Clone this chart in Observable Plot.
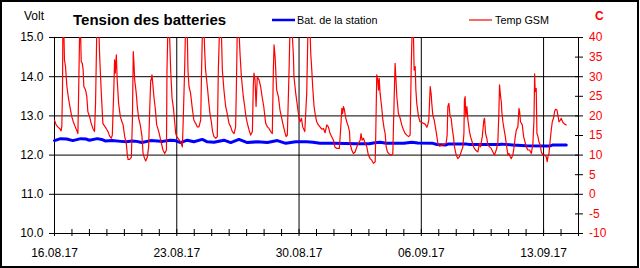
<!DOCTYPE html>
<html>
<head>
<meta charset="utf-8">
<script src="https://cdn.jsdelivr.net/npm/d3@7"></script>
<script src="https://cdn.jsdelivr.net/npm/@observablehq/plot@0.6"></script>
<style>
  html, body { margin: 0; padding: 0; background: white; }
  #chart { width: 640px; height: 268px; }
</style>
</head>
<body>
<div id="chart"></div>
<script>
// ---- data ----
const startDate = "2017-08-16";
const endDate = "2017-09-15";
const dateLabels = ["2017-08-16", "2017-08-23", "2017-08-30", "2017-09-06", "2017-09-13"];
const voltTicks = [10, 11, 12, 13, 14, 15];
const tempTicks = [-10, -5, 0, 5, 10, 15, 20, 25, 30, 35, 40];

// battery: [day offset from 16.08.17, volts]
const batDay = [0,0.35,0.7,1.05,1.5,1.8,2.0,2.45,2.7,2.9,3.3,3.8,4.1,4.45,4.7,5.0,5.5,5.9,6.2,6.6,6.9,7.22,7.6,7.98,8.46,8.75,9.13,9.7,10.09,10.56,11.04,11.61,12.19,12.76,13.24,13.81,14.44,14.8,15.2,16.0,17.3,18.0,18.45,18.64,19.0,20.0,20.45,20.8,21.66,21.9,22.42,22.52,23.6,23.76,25.48,25.58,26.2,27.01,28.34,28.54,29.3];
const batVolt = [12.37,12.42,12.41,12.37,12.42,12.41,12.38,12.42,12.40,12.36,12.37,12.35,12.34,12.36,12.35,12.32,12.37,12.36,12.35,12.38,12.37,12.32,12.38,12.34,12.40,12.34,12.33,12.38,12.32,12.40,12.32,12.34,12.32,12.37,12.30,12.34,12.34,12.33,12.30,12.30,12.29,12.29,12.32,12.33,12.30,12.30,12.33,12.31,12.30,12.27,12.26,12.28,12.28,12.27,12.27,12.28,12.26,12.24,12.23,12.26,12.26];

// GSM temperature: [day offset from 16.08.17, °C]
const tempPoints = [
[0,18.9],[0.096,17.7],[0.19,17.2],[0.29,16.8],[0.38,16.2],[0.42,17.4],[0.46,27.5],[0.48,43],[0.535,42],[0.57,34.3],[0.63,32.6],[0.71,27.5],[0.80,24.5],[0.90,21.9],[0.99,19.8],
[1.09,18.3],[1.19,17.2],[1.28,16.2],[1.34,15.5],[1.40,30.9],[1.45,44],[1.49,42],[1.53,33.9],[1.59,33.4],[1.64,31.7],[1.68,27.5],[1.78,26.6],[1.85,24.9],[1.91,21.1],
[2.01,19.8],[2.10,18.1],[2.20,16.8],[2.29,16.0],[2.35,23.2],[2.43,44],[2.54,42],[2.58,36.0],[2.62,31.7],[2.68,25.8],[2.77,18.1],[2.87,17.4],[2.96,16.8],
[3.06,16.0],[3.15,14.9],[3.25,14.3],[3.31,15.1],[3.40,27.5],[3.44,34.3],[3.48,30.9],[3.54,35.6],[3.59,29.2],[3.67,23.2],[3.77,19.8],[3.86,18.5],[3.92,17.9],
[4.02,14.7],[4.11,13.0],[4.17,10.0],[4.21,8.9],[4.30,8.9],[4.40,9.4],[4.46,18.9],[4.51,36.4],[4.55,33.4],[4.59,29.2],[4.68,25.8],[4.74,22.4],[4.82,19.4],[4.91,17.7],
[5.01,14.7],[5.07,10.4],[5.16,9.1],[5.22,8.5],[5.32,9.6],[5.39,12.1],[5.45,21.5],[5.51,29.2],[5.54,29.2],[5.58,30.5],[5.64,27.5],[5.70,24.5],[5.77,21.9],[5.85,17.7],[5.97,16.0],
[6.08,13.8],[6.21,11.3],[6.31,10.4],[6.41,11.3],[6.44,31.7],[6.50,44],[6.58,42],[6.65,31.7],[6.73,24.5],[6.81,21.9],[6.88,18.5],[6.94,15.5],
[7.00,14.7],[7.22,13.4],[7.32,12.1],[7.37,18.9],[7.45,31.7],[7.51,44],[7.60,42],[7.64,31.7],[7.70,27.5],[7.79,25.8],[7.89,21.9],[7.98,18.9],
[8.08,18.1],[8.18,17.2],[8.27,17.2],[8.37,18.9],[8.42,31.7],[8.48,44],[8.56,42],[8.60,36.4],[8.65,31.7],[8.75,27.5],[8.84,23.2],[8.90,20.6],[8.98,18.5],
[9.05,16.0],[9.13,14.7],[9.23,14.3],[9.32,14.7],[9.38,31.7],[9.46,44],[9.55,42],[9.61,31.7],[9.70,26.6],[9.80,22.4],[9.89,20.6],[9.99,18.1],
[10.09,17.2],[10.18,16.0],[10.28,15.5],[10.37,17.2],[10.43,31.7],[10.47,44],[10.56,42],[10.62,36.0],[10.70,30.0],[10.81,24.9],[10.89,22.4],[10.96,19.8],
[11.04,18.1],[11.14,16.4],[11.23,15.1],[11.33,16.0],[11.38,27.5],[11.42,30.9],[11.48,29.2],[11.54,22.4],[11.61,30.0],[11.71,29.2],[11.80,27.5],[11.90,24.5],[11.98,22.4],
[12.09,18.1],[12.19,17.2],[12.28,16.8],[12.38,16.0],[12.47,15.5],[12.53,31.7],[12.57,38.1],[12.63,35.1],[12.72,26.6],[12.82,24.9],[12.91,21.5],[12.99,19.8],
[13.07,18.1],[13.18,16.0],[13.26,14.7],[13.33,15.1],[13.43,31.7],[13.49,44],[13.60,42],[13.68,35.1],[13.71,30.0],[13.81,25.8],[13.91,22.4],
[14.00,19.4],[14.06,18.5],[14.14,19.4],[14.21,17.2],[14.33,16.0],[14.44,25.8],[14.52,44],[14.63,42],[14.67,36.0],[14.73,31.7],[14.78,27.5],[14.86,22.4],[14.92,20.6],
[15.01,18.5],[15.11,17.7],[15.20,17.2],[15.30,16.6],[15.40,16.8],[15.49,15.7],[15.59,17.7],[15.68,17.2],[15.78,15.5],[15.87,14.7],[15.97,13.8],
[16.06,12.0],[16.16,11.7],[16.31,11.7],[16.39,17.2],[16.45,21.9],[16.50,20.6],[16.54,22.4],[16.60,21.5],[16.66,19.8],[16.73,18.5],[16.83,17.2],[16.89,16.0],[16.92,13.0],
[17.02,11.3],[17.11,10.4],[17.21,10.8],[17.31,12.1],[17.40,13.0],[17.50,13.8],[17.55,15.5],[17.61,13.8],[17.69,14.3],[17.78,13.1],[17.88,12.1],[17.97,10.0],
[18.07,9.1],[18.16,8.7],[18.26,7.9],[18.36,8.3],[18.39,14.7],[18.45,30.5],[18.51,29.2],[18.55,26.6],[18.59,29.6],[18.64,25.8],[18.74,21.9],[18.80,18.9],[18.87,16.8],[18.93,15.5],[18.99,12.1],
[19.06,10.8],[19.18,10.2],[19.31,10.0],[19.37,10.4],[19.44,23.2],[19.50,33.4],[19.56,28.3],[19.60,24.9],[19.69,20.6],[19.79,19.4],[19.88,17.7],[19.98,16.4],
[20.08,15.5],[20.17,15.1],[20.27,14.7],[20.36,15.1],[20.42,31.7],[20.48,43],[20.55,41],[20.59,31.7],[20.65,32.6],[20.69,26.6],[20.74,23.2],[20.84,19.8],[20.93,18.5],
[21.03,18.3],[21.13,18.1],[21.22,17.9],[21.32,17.1],[21.37,17.7],[21.43,18.9],[21.51,27.5],[21.57,25.3],[21.60,23.2],[21.66,20.2],[21.74,18.9],[21.85,16.0],[21.95,13.0],
[22.04,12.3],[22.23,12.6],[22.42,13.0],[22.48,15.1],[22.52,22.4],[22.58,23.2],[22.65,19.8],[22.71,19.4],[22.77,16.8],[22.84,14.7],[22.90,12.1],
[23.00,10.0],[23.09,9.1],[23.19,9.6],[23.28,10.8],[23.38,12.1],[23.44,15.5],[23.47,24.1],[23.51,24.9],[23.55,19.8],[23.61,22.4],[23.67,18.9],[23.76,16.0],[23.82,14.7],[23.91,13.4],[23.99,12.1],
[24.10,11.3],[24.24,10.8],[24.33,13.0],[24.39,12.1],[24.49,14.7],[24.58,18.9],[24.62,19.4],[24.68,15.5],[24.75,14.3],[24.81,12.6],[24.91,12.1],
[25.00,11.7],[25.10,10.8],[25.19,10.0],[25.29,11.3],[25.38,13.0],[25.44,20.6],[25.48,27.9],[25.54,24.9],[25.58,23.6],[25.61,21.1],[25.67,18.5],[25.73,16.8],[25.81,14.7],[25.86,13.0],[25.96,10.0],
[26.02,10.4],[26.09,9.6],[26.15,9.1],[26.24,10.0],[26.30,11.7],[26.38,14.7],[26.44,16.4],[26.53,17.2],[26.59,21.9],[26.63,21.1],[26.68,18.5],[26.78,17.7],[26.86,14.7],[26.91,13.8],
[27.01,12.1],[27.10,11.3],[27.20,11.3],[27.30,10.4],[27.39,13.0],[27.45,18.9],[27.49,30.7],[27.52,26.2],[27.58,27.0],[27.62,15.5],[27.68,14.7],[27.73,13.4],[27.81,12.6],[27.87,10.8],[27.96,10.0],
[28.06,10.0],[28.15,9.6],[28.21,8.3],[28.25,9.6],[28.31,10.4],[28.38,13.8],[28.44,16.4],[28.50,18.5],[28.57,19.4],[28.63,21.1],[28.69,21.7],[28.77,21.5],[28.82,20.2],[28.88,18.5],[28.96,18.9],
[29.01,19.4],[29.11,18.3],[29.21,17.9],[29.30,17.7]
];

// ---- build tables ----
const DAY = 864e5;
const t0 = new Date(startDate + "T00:00:00Z");
const t1 = new Date(endDate + "T00:00:00Z");
const toDate = (d) => new Date(+t0 + d * DAY);
const tempToVolt = (c) => 11 + c / 10;   // right axis: -10..40 °C over 10..15 V

const battery = batDay.map((d, i) => ({time: toDate(d), v: batVolt[i]}));
const temperature = tempPoints.map(([d, c]) => ({time: toDate(d), c}));
const weekTicks = dateLabels.map((s) => new Date(s + "T00:00:00Z"));
const dayTicks = d3.utcDay.range(t0, new Date(+t1 + 1));
const tempTickVolts = tempTicks.map(tempToVolt);
const fmtDate = d3.utcFormat("%d.%m.%y");

const svg = Plot.plot({
  width: 640,
  height: 268,
  marginLeft: 54,
  marginRight: 62,
  marginTop: 37,
  marginBottom: 35,
  style: {
    background: "white",
    color: "black",
    fontFamily: "'Liberation Sans', Arial, sans-serif",
    fontSize: "12px",
    overflow: "visible"
  },
  x: {type: "utc", domain: [t0, t1]},
  y: {domain: [10, 15]},
  marks: [
    Plot.gridY({ticks: voltTicks.slice(1, -1), stroke: "black", strokeOpacity: 1}),
    Plot.gridX({ticks: weekTicks, stroke: "black", strokeOpacity: 1}),
    Plot.frame({stroke: "black"}),
    Plot.line(battery, {x: "time", y: "v", stroke: "#0000ff", strokeWidth: 3}),
    Plot.line(temperature, {x: "time", y: (d) => tempToVolt(d.c), stroke: "#ff0000", strokeWidth: 1.2, clip: true}),
    Plot.axisY({ticks: voltTicks, anchor: "left", tickSize: 5, tickPadding: 6, tickFormat: d3.format(".1f"), label: null}),
    Plot.axisY({ticks: tempTickVolts, anchor: "right", tickSize: 8, dx: -4, tickFormat: () => "", label: null}),
    Plot.axisY({ticks: tempTickVolts, anchor: "right", tickSize: 0, tickPadding: 10.5, fill: "#ff0000",
      tickFormat: (v) => String(Math.round((v - 11) * 10)), label: null}),
    Plot.axisX({ticks: dayTicks, anchor: "bottom", tickSize: 7, dy: -4, tickFormat: () => "", label: null}),
    Plot.axisX({ticks: weekTicks, anchor: "bottom", tickSize: 0, tickPadding: 14.5, tickFormat: fmtDate, label: null})
  ]
});

// ---- decorations: border, title, unit labels, legend ----
const g = d3.select(svg).append("g")
  .attr("font-family", "'Liberation Sans', Arial, sans-serif")
  .attr("text-anchor", "start");
g.append("rect").attr("x", 1).attr("y", 1).attr("width", 637).attr("height", 266)
  .attr("fill", "none").attr("stroke", "black").attr("stroke-width", 2);
g.append("text").attr("x", 24).attr("y", 20).attr("font-size", 12).attr("fill", "black").text("Volt");
g.append("text").attr("x", 73).attr("y", 25).attr("font-size", 15).attr("font-weight", "bold")
  .attr("fill", "black").text("Tension des batteries");
g.append("line").attr("x1", 272).attr("x2", 295).attr("y1", 20).attr("y2", 20)
  .attr("stroke", "#0000ff").attr("stroke-width", 2.5);
g.append("text").attr("x", 297).attr("y", 24).attr("font-size", 10.8).attr("fill", "black").text("Bat. de la station");
g.append("line").attr("x1", 469).attr("x2", 492).attr("y1", 20).attr("y2", 20)
  .attr("stroke", "#ff0000").attr("stroke-width", 1.2);
g.append("text").attr("x", 495).attr("y", 24).attr("font-size", 10.8).attr("fill", "black").text("Temp GSM");
g.append("text").attr("x", 595).attr("y", 20).attr("font-size", 12).attr("font-weight", "bold")
  .attr("fill", "#ff0000").text("C");

document.getElementById("chart").appendChild(svg);
</script>
</body>
</html>
